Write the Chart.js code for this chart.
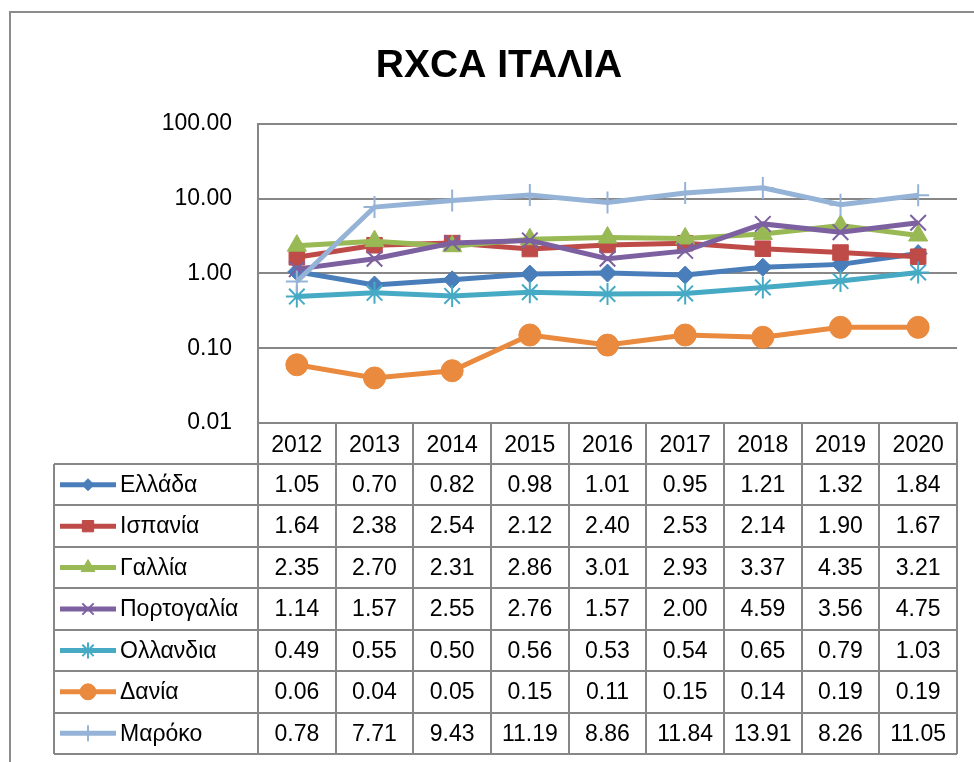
<!DOCTYPE html>
<html>
<head>
<meta charset="utf-8">
<title>RXCA ΙΤΑΛΙΑ</title>
<script src="https://cdn.jsdelivr.net/npm/chart.js@4.4.1/dist/chart.umd.min.js"></script>
<style>
    html, body { margin: 0; padding: 0; background: #fff; }
    #wrap { width: 974px; height: 762px; }
</style>
</head>
<body>
<div id="wrap"><canvas id="rxcaChart" width="974" height="762"></canvas></div>
<script>
// chart data
const years = ['2012', '2013', '2014', '2015', '2016', '2017', '2018', '2019', '2020'];
const countries = ['Ελλάδα', 'Ισπανία', 'Γαλλία', 'Πορτογαλία', 'Ολλανδια', 'Δανία', 'Μαρόκο'];

const greece = [1.05, 0.70, 0.82, 0.98, 1.01, 0.95, 1.21, 1.32, 1.84];
const spain = [1.64, 2.38, 2.54, 2.12, 2.40, 2.53, 2.14, 1.90, 1.67];
const france = [2.35, 2.70, 2.31, 2.86, 3.01, 2.93, 3.37, 4.35, 3.21];
const portugal = [1.14, 1.57, 2.55, 2.76, 1.57, 2.00, 4.59, 3.56, 4.75];
const netherlands = [0.49, 0.55, 0.50, 0.56, 0.53, 0.54, 0.65, 0.79, 1.03];
const denmark = [0.06, 0.04, 0.05, 0.15, 0.11, 0.15, 0.14, 0.19, 0.19];
const morocco = [0.78, 7.71, 9.43, 11.19, 8.86, 11.84, 13.91, 8.26, 11.05];

const yTickValues = [0.01, 0.1, 1, 10, 100];
const yTickLabels = ['0.01', '0.10', '1.00', '10.00', '100.00'];

const seriesValues = [greece, spain, france, portugal, netherlands, denmark, morocco];

// Excel 2007 look
const colors = ['#4A7EBB', '#BE4B48', '#98B954', '#7D60A0', '#46AAC5', '#EA8A3E', '#95B3D7'];
const markers = [
    { style: 'rectRot', r: 9, bw: 1 },
    { style: 'rect', r: 11, bw: 1 },
    { style: 'triangle', r: 11, bw: 1 },
    { style: 'crossRot', r: 11, bw: 2 },
    { style: 'star', r: 11, bw: 2 },
    { style: 'circle', r: 11, bw: 1 },
    { style: 'cross', r: 11, bw: 2 }
];

const FONT = '"Liberation Sans", Arial, sans-serif';
const GRID = '#878787';
const TABLE_BOTTOM = 754;

// outer frame of the chart object (only left and top edges are in the shot)
const framePlugin = {
    id: 'frame',
    beforeDraw(chart) {
        const ctx = chart.ctx;
        ctx.save();
        ctx.fillStyle = '#fff';
        ctx.fillRect(0, 0, chart.width, chart.height);
        ctx.strokeStyle = '#8c8c8c';
        ctx.lineWidth = 2;
        ctx.beginPath();
        ctx.moveTo(10, chart.height);
        ctx.lineTo(10, 12);
        ctx.lineTo(chart.width, 12);
        ctx.stroke();
        ctx.restore();
    }
};

// data table under the plot, columns follow the x scale
const dataTablePlugin = {
    id: 'dataTable',
    afterDraw(chart) {
        const ctx = chart.ctx;
        const x = chart.scales.x;
        const area = chart.chartArea;
        const n = years.length;
        const colW = (x.right - x.left) / n;
        const top = area.bottom;
        const headerBottom = 464;
        const rowH = (TABLE_BOTTOM - headerBottom) / countries.length;
        const tableLeft = 54;

        ctx.save();
        ctx.strokeStyle = GRID;
        ctx.lineWidth = 2;
        ctx.beginPath();
        // column lines through header and body
        for (let i = 0; i <= n; i++) {
            const cx = Math.round(x.left + i * colW);
            ctx.moveTo(cx, top);
            ctx.lineTo(cx, TABLE_BOTTOM);
        }
        // row lines
        for (let r = 0; r <= countries.length; r++) {
            const ry = Math.round(headerBottom + r * rowH);
            ctx.moveTo(tableLeft, ry);
            ctx.lineTo(x.right, ry);
        }
        ctx.moveTo(tableLeft, headerBottom);
        ctx.lineTo(tableLeft, TABLE_BOTTOM);
        ctx.stroke();

        ctx.font = '23px ' + FONT;
        ctx.fillStyle = '#000';
        ctx.textBaseline = 'middle';

        countries.forEach((name, r) => {
            const cy = headerBottom + r * rowH + rowH / 2;

            // legend key
            ctx.strokeStyle = colors[r];
            ctx.lineWidth = 5;
            ctx.beginPath();
            ctx.moveTo(60, cy);
            ctx.lineTo(116, cy);
            ctx.stroke();
            const m = markers[r];
            ctx.fillStyle = colors[r];
            ctx.strokeStyle = colors[r];
            ctx.lineWidth = m.bw;
            Chart.helpers.drawPoint(ctx, { pointStyle: m.style, radius: m.r - 3, borderWidth: m.bw, rotation: 0 }, 88, cy);

            ctx.fillStyle = '#000';
            ctx.textAlign = 'left';
            ctx.fillText(name, 120, cy + 1);

            ctx.textAlign = 'center';
            seriesValues[r].forEach((v, i) => {
                ctx.fillText(v.toFixed(2), x.getPixelForTick(i), cy + 1);
            });
        });
        ctx.restore();
    }
};

const datasets = countries.map((name, i) => ({
    label: name,
    data: seriesValues[i],
    borderColor: colors[i],
    backgroundColor: colors[i],
    borderWidth: 5,
    pointStyle: markers[i].style,
    pointRadius: markers[i].r,
    pointBorderWidth: markers[i].bw,
    pointBackgroundColor: colors[i],
    pointBorderColor: colors[i],
    tension: 0,
    order: countries.length - i   // later series on top, like Excel
}));

new Chart(document.getElementById('rxcaChart'), {
    type: 'line',
    data: { labels: years, datasets },
    options: {
        responsive: false,
        animation: false,
        layout: { autoPadding: false, padding: { left: 41, right: 17, top: 0, bottom: 0 } },
        plugins: {
            legend: { display: false },
            tooltip: { enabled: false },
            title: {
                display: true,
                text: 'RXCA ΙΤΑΛΙΑ',
                color: '#000',
                font: { family: FONT, size: 39, weight: 'bold', lineHeight: 1.2 },
                padding: { top: 43, bottom: 34 }
            }
        },
        scales: {
            x: {
                type: 'category',
                offset: true,
                grid: { display: false, drawTicks: false },
                border: { display: true, color: GRID, width: 2 },
                ticks: { color: '#000', font: { family: FONT, size: 23 }, padding: 9, maxRotation: 0, autoSkip: false },
                afterFit(scale) { scale.height = 762 - 423; }
            },
            y: {
                type: 'logarithmic',
                min: 0.01,
                max: 100,
                afterBuildTicks(scale) {
                    scale.ticks = yTickValues.map(v => ({ value: v }));
                },
                afterFit(scale) { scale.width = 258 - 41; },
                grid: { color: GRID, lineWidth: 2, drawTicks: false },
                border: { display: true, color: GRID, width: 2 },
                ticks: {
                    color: '#000',
                    font: { family: FONT, size: 23 },
                    padding: 26,
                    callback(v) {
                        const k = yTickValues.findIndex(t => Math.abs(t - v) < 1e-9);
                        return k >= 0 ? yTickLabels[k] : '';
                    }
                }
            }
        }
    },
    plugins: [framePlugin, dataTablePlugin]
});
</script>
</body>
</html>
